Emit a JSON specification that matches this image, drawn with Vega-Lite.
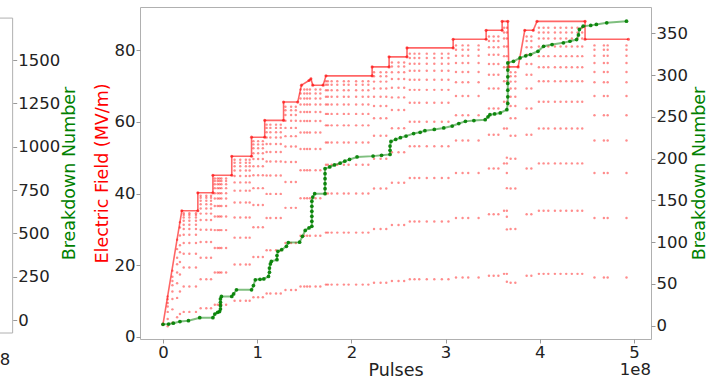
{
  "$schema": "https://vega.github.io/schema/vega-lite/v6.json",
  "width": 511,
  "height": 332,
  "autosize": {"type": "none"},
  "padding": {"left": 140, "top": 7, "right": 61, "bottom": 41},
  "background": "white",
  "config": {
    "font": "DejaVu Sans",
    "view": {"stroke": "#b0b0b0", "strokeWidth": 1},
    "axis": {
      "grid": false,
      "domain": false,
      "tickColor": "#999999",
      "tickSize": 4,
      "labelPadding": 1,
      "labelFontSize": 16.5,
      "labelColor": "#222222",
      "labelFont": "DejaVu Sans",
      "labelFlush": false,
      "labelOverlap": false,
      "titleFont": "DejaVu Sans",
      "titleFontSize": 17.5,
      "titleFontWeight": "normal"
    }
  },
  "datasets": {
    "env": [
      {"x": 0, "y": 3.5}, {"x": 0.20, "y": 35.2}, {"x": 0.37, "y": 35.2}, {"x": 0.37, "y": 40.2},
      {"x": 0.53, "y": 40.2}, {"x": 0.53, "y": 45.1}, {"x": 0.73, "y": 45.1}, {"x": 0.73, "y": 50.4},
      {"x": 0.94, "y": 50.4}, {"x": 0.94, "y": 55.7}, {"x": 1.08, "y": 55.7}, {"x": 1.08, "y": 60.4},
      {"x": 1.28, "y": 60.4}, {"x": 1.28, "y": 65.5}, {"x": 1.43, "y": 65.5}, {"x": 1.47, "y": 70.2},
      {"x": 1.55, "y": 71.5}, {"x": 1.57, "y": 72.0}, {"x": 1.59, "y": 70.2}, {"x": 1.70, "y": 70.2},
      {"x": 1.73, "y": 72.8}, {"x": 2.22, "y": 72.8}, {"x": 2.22, "y": 75.3}, {"x": 2.40, "y": 75.3},
      {"x": 2.40, "y": 78.1}, {"x": 2.59, "y": 78.1}, {"x": 2.59, "y": 80.6}, {"x": 3.08, "y": 80.6},
      {"x": 3.08, "y": 83.0}, {"x": 3.43, "y": 83.0}, {"x": 3.43, "y": 85.5}, {"x": 3.60, "y": 85.5},
      {"x": 3.60, "y": 88.0}, {"x": 3.66, "y": 88.0}, {"x": 3.67, "y": 75.3}, {"x": 3.77, "y": 75.3},
      {"x": 3.84, "y": 85.5}, {"x": 3.93, "y": 85.5}, {"x": 3.97, "y": 88.0}, {"x": 4.48, "y": 88.0},
      {"x": 4.48, "y": 83.0}, {"x": 4.94, "y": 83.0}
    ],
    "dots": [
      {"x": 0.05, "y": [3.0, 5.0, 7.0, 8.5, 9.5, 10.5, 11.3]},
      {"x": 0.10, "y": [4.0, 7.7, 10.6, 12.7, 14.4, 15.6, 16.8, 18.5]},
      {"x": 0.15, "y": [5.5, 10.9, 15.0, 18.0, 20.3, 22.1, 24.5, 27.1]},
      {"x": 0.18, "y": [6.4, 12.7, 17.4, 20.9, 23.6, 25.6, 28.3, 30.5, 32.0]},
      {"x": 0.22, "y": [7.0, 14.1, 19.4, 23.2, 26.2, 28.5, 30.1, 31.3, 32.4, 33.3, 34.0, 34.5]},
      {"x": 0.28, "y": [7.0, 14.1, 19.4, 23.2, 26.2, 28.5, 30.1, 31.3, 32.4, 33.3, 34.0, 34.5]},
      {"x": 0.35, "y": [7.0, 14.1, 19.4, 23.2, 26.2, 28.5, 30.1, 31.3, 32.4, 33.3, 34.0, 34.5]},
      {"x": 0.40, "y": [8.0, 16.1, 22.1, 26.5, 29.9, 32.6, 34.4, 35.8, 37.0, 38.0, 38.8, 39.4]},
      {"x": 0.46, "y": [8.0, 16.1, 22.1, 26.5, 29.9, 32.6, 34.4, 35.8, 37.0, 38.0, 38.8, 39.4]},
      {"x": 0.51, "y": [8.0, 16.1, 22.1, 26.5, 29.9, 32.6, 34.4, 35.8, 37.0, 38.0, 38.8, 39.4]},
      {"x": 0.55, "y": [9.0, 18.0, 24.8, 29.8, 33.6, 36.5, 38.6, 40.1, 41.5, 42.6, 43.5, 44.2]},
      {"x": 0.58, "y": [9.0, 18.0, 24.8, 29.8, 33.6, 36.5, 38.6, 40.1, 41.5, 42.6, 43.5, 44.2]},
      {"x": 0.60, "y": [9.0, 18.0, 24.8, 29.8, 33.6, 36.5, 38.6, 40.1, 41.5, 42.6, 43.5, 44.2]},
      {"x": 0.62, "y": [9.0, 18.0, 24.8, 29.8, 33.6, 36.5, 38.6, 40.1, 41.5, 42.6, 43.5, 44.2]},
      {"x": 0.67, "y": [9.0, 18.0, 24.8, 29.8, 33.6, 36.5, 38.6, 40.1, 41.5, 42.6, 43.5, 44.2]},
      {"x": 0.76, "y": [10.1, 20.2, 27.7, 33.3, 37.5, 40.8, 43.1, 44.9, 46.4, 47.6, 48.6, 49.4]},
      {"x": 0.82, "y": [10.1, 20.2, 27.7, 33.3, 37.5, 40.8, 43.1, 44.9, 46.4, 47.6, 48.6, 49.4]},
      {"x": 0.88, "y": [10.1, 20.2, 27.7, 33.3, 37.5, 40.8, 43.1, 44.9, 46.4, 47.6, 48.6, 49.4]},
      {"x": 0.92, "y": [10.1, 20.2, 27.7, 33.3, 37.5, 40.8, 43.1, 44.9, 46.4, 47.6, 48.6, 49.4]},
      {"x": 0.96, "y": [11.1, 22.3, 30.6, 36.8, 41.5, 45.1, 47.6, 49.6, 51.2, 52.6, 53.7, 54.6]},
      {"x": 1.01, "y": [11.1, 22.3, 30.6, 36.8, 41.5, 45.1, 47.6, 49.6, 51.2, 52.6, 53.7, 54.6]},
      {"x": 1.06, "y": [11.1, 22.3, 30.6, 36.8, 41.5, 45.1, 47.6, 49.6, 51.2, 52.6, 53.7, 54.6]},
      {"x": 1.10, "y": [12.1, 24.2, 33.2, 39.9, 45.0, 48.9, 51.6, 53.8, 55.6, 57.1, 58.3, 59.2]},
      {"x": 1.14, "y": [12.1, 24.2, 33.2, 39.9, 45.0, 48.9, 51.6, 53.8, 55.6, 57.1, 58.3, 59.2]},
      {"x": 1.20, "y": [12.1, 24.2, 33.2, 39.9, 45.0, 48.9, 51.6, 53.8, 55.6, 57.1, 58.3, 59.2]},
      {"x": 1.25, "y": [12.1, 24.2, 33.2, 39.9, 45.0, 48.9, 51.6, 53.8, 55.6, 57.1, 58.3, 59.2]},
      {"x": 1.30, "y": [13.1, 26.2, 36.0, 43.2, 48.8, 53.1, 56.0, 58.3, 60.3, 61.9, 63.2, 64.2]},
      {"x": 1.36, "y": [13.1, 26.2, 36.0, 43.2, 48.8, 53.1, 56.0, 58.3, 60.3, 61.9, 63.2, 64.2]},
      {"x": 1.41, "y": [13.1, 26.2, 36.0, 43.2, 48.8, 53.1, 56.0, 58.3, 60.3, 61.9, 63.2, 64.2]},
      {"x": 1.46, "y": [14.1, 28.2, 38.7, 46.5, 52.4, 57.0, 60.2, 62.7, 64.8, 66.5, 67.9, 69.0]},
      {"x": 1.50, "y": [14.1, 28.2, 38.7, 46.5, 52.4, 57.0, 60.2, 62.7, 64.8, 66.5, 67.9, 69.0]},
      {"x": 1.53, "y": [14.1, 28.2, 38.7, 46.5, 52.4, 57.0, 60.2, 62.7, 64.8, 66.5, 67.9, 69.0]},
      {"x": 1.56, "y": [14.1, 28.2, 38.7, 46.5, 52.4, 57.0, 60.2, 62.7, 64.8, 66.5, 67.9, 69.0]},
      {"x": 1.62, "y": [14.1, 28.2, 38.7, 46.5, 52.4, 57.0, 60.2, 62.7, 64.8, 66.5, 67.9, 69.0]},
      {"x": 1.67, "y": [14.1, 28.2, 38.7, 46.5, 52.4, 57.0, 60.2, 62.7, 64.8, 66.5, 67.9, 69.0]},
      {"x": 1.73, "y": [14.6, 29.1, 40.0, 48.0, 54.2, 59.0, 62.2, 64.8, 67.0, 68.8, 70.3, 71.3]},
      {"x": 1.75, "y": [14.6, 29.1, 40.0, 48.0, 54.2, 59.0, 62.2, 64.8, 67.0, 68.8, 70.3, 71.3]},
      {"x": 1.79, "y": [14.6, 29.1, 40.0, 48.0, 54.2, 59.0, 62.2, 64.8, 67.0, 68.8, 70.3, 71.3]},
      {"x": 1.85, "y": [14.6, 29.1, 40.0, 48.0, 54.2, 59.0, 62.2, 64.8, 67.0, 68.8, 70.3, 71.3]},
      {"x": 1.92, "y": [14.6, 29.1, 40.0, 48.0, 54.2, 59.0, 62.2, 64.8, 67.0, 68.8, 70.3, 71.3]},
      {"x": 1.97, "y": [14.6, 29.1, 40.0, 48.0, 54.2, 59.0, 62.2, 64.8, 67.0, 68.8, 70.3, 71.3]},
      {"x": 2.05, "y": [14.6, 29.1, 40.0, 48.0, 54.2, 59.0, 62.2, 64.8, 67.0, 68.8, 70.3, 71.3]},
      {"x": 2.12, "y": [14.6, 29.1, 40.0, 48.0, 54.2, 59.0, 62.2, 64.8, 67.0, 68.8, 70.3, 71.3]},
      {"x": 2.18, "y": [14.6, 29.1, 40.0, 48.0, 54.2, 59.0, 62.2, 64.8, 67.0, 68.8, 70.3, 71.3]},
      {"x": 2.24, "y": [15.1, 30.1, 41.4, 49.7, 56.1, 61.0, 64.4, 67.0, 69.3, 71.2, 72.7, 73.8]},
      {"x": 2.31, "y": [15.1, 30.1, 41.4, 49.7, 56.1, 61.0, 64.4, 67.0, 69.3, 71.2, 72.7, 73.8]},
      {"x": 2.37, "y": [15.1, 30.1, 41.4, 49.7, 56.1, 61.0, 64.4, 67.0, 69.3, 71.2, 72.7, 73.8]},
      {"x": 2.43, "y": [15.6, 31.2, 43.0, 51.5, 58.2, 63.3, 66.8, 69.5, 71.9, 73.8, 75.4, 76.5]},
      {"x": 2.50, "y": [15.6, 31.2, 43.0, 51.5, 58.2, 63.3, 66.8, 69.5, 71.9, 73.8, 75.4, 76.5]},
      {"x": 2.56, "y": [15.6, 31.2, 43.0, 51.5, 58.2, 63.3, 66.8, 69.5, 71.9, 73.8, 75.4, 76.5]},
      {"x": 2.62, "y": [16.1, 32.2, 44.3, 53.2, 60.0, 65.3, 68.9, 71.7, 74.2, 76.2, 77.8, 79.0]},
      {"x": 2.67, "y": [16.1, 32.2, 44.3, 53.2, 60.0, 65.3, 68.9, 71.7, 74.2, 76.2, 77.8, 79.0]},
      {"x": 2.72, "y": [16.1, 32.2, 44.3, 53.2, 60.0, 65.3, 68.9, 71.7, 74.2, 76.2, 77.8, 79.0]},
      {"x": 2.80, "y": [16.1, 32.2, 44.3, 53.2, 60.0, 65.3, 68.9, 71.7, 74.2, 76.2, 77.8, 79.0]},
      {"x": 2.88, "y": [16.1, 32.2, 44.3, 53.2, 60.0, 65.3, 68.9, 71.7, 74.2, 76.2, 77.8, 79.0]},
      {"x": 2.96, "y": [16.1, 32.2, 44.3, 53.2, 60.0, 65.3, 68.9, 71.7, 74.2, 76.2, 77.8, 79.0]},
      {"x": 3.03, "y": [16.1, 32.2, 44.3, 53.2, 60.0, 65.3, 68.9, 71.7, 74.2, 76.2, 77.8, 79.0]},
      {"x": 3.11, "y": [16.6, 33.2, 45.7, 54.8, 61.8, 67.2, 71.0, 73.9, 76.4, 78.4, 80.1, 81.3]},
      {"x": 3.18, "y": [16.6, 33.2, 45.7, 54.8, 61.8, 67.2, 71.0, 73.9, 76.4, 78.4, 80.1, 81.3]},
      {"x": 3.24, "y": [16.6, 33.2, 45.7, 54.8, 61.8, 67.2, 71.0, 73.9, 76.4, 78.4, 80.1, 81.3]},
      {"x": 3.35, "y": [16.6, 33.2, 45.7, 54.8, 61.8, 67.2, 71.0, 73.9, 76.4, 78.4, 80.1, 81.3]},
      {"x": 3.46, "y": [17.1, 34.2, 47.0, 56.4, 63.7, 69.3, 73.1, 76.1, 78.7, 80.8, 82.5, 83.8]},
      {"x": 3.51, "y": [17.1, 34.2, 47.0, 56.4, 63.7, 69.3, 73.1, 76.1, 78.7, 80.8, 82.5, 83.8]},
      {"x": 3.56, "y": [17.1, 34.2, 47.0, 56.4, 63.7, 69.3, 73.1, 76.1, 78.7, 80.8, 82.5, 83.8]},
      {"x": 3.62, "y": [17.6, 35.2, 48.4, 58.1, 65.6, 71.3, 75.2, 78.3, 81.0, 83.2, 84.9, 86.2]},
      {"x": 3.65, "y": [15.4, 17.6, 30.0, 33.5, 35.2, 41.5, 45.7, 48.4, 50.0, 58.1, 65.6, 71.3, 75.2, 78.3, 81.0, 83.2, 84.9, 86.2]},
      {"x": 3.69, "y": [15.1, 30.1, 41.4, 49.7, 56.1, 61.0, 64.4, 67.0, 69.3, 71.2, 72.7, 73.8]},
      {"x": 3.74, "y": [15.1, 30.1, 41.4, 49.7, 56.1, 61.0, 64.4, 67.0, 69.3, 71.2, 72.7, 73.8]},
      {"x": 3.86, "y": [17.1, 34.2, 47.0, 56.4, 63.7, 69.3, 73.1, 76.1, 78.7, 80.8, 82.5, 83.8]},
      {"x": 3.91, "y": [17.1, 34.2, 47.0, 56.4, 63.7, 69.3, 73.1, 76.1, 78.7, 80.8, 82.5, 83.8]},
      {"x": 3.99, "y": [17.6, 35.2, 48.4, 58.1, 65.6, 71.3, 75.2, 78.3, 81.0, 83.2, 84.9, 86.2]},
      {"x": 4.04, "y": [17.6, 35.2, 48.4, 58.1, 65.6, 71.3, 75.2, 78.3, 81.0, 83.2, 84.9, 86.2]},
      {"x": 4.09, "y": [17.6, 35.2, 48.4, 58.1, 65.6, 71.3, 75.2, 78.3, 81.0, 83.2, 84.9, 86.2]},
      {"x": 4.16, "y": [17.6, 35.2, 48.4, 58.1, 65.6, 71.3, 75.2, 78.3, 81.0, 83.2, 84.9, 86.2]},
      {"x": 4.22, "y": [17.6, 35.2, 48.4, 58.1, 65.6, 71.3, 75.2, 78.3, 81.0, 83.2, 84.9, 86.2]},
      {"x": 4.28, "y": [17.6, 35.2, 48.4, 58.1, 65.6, 71.3, 75.2, 78.3, 81.0, 83.2, 84.9, 86.2]},
      {"x": 4.34, "y": [17.6, 35.2, 48.4, 58.1, 65.6, 71.3, 75.2, 78.3, 81.0, 83.2, 84.9, 86.2]},
      {"x": 4.40, "y": [17.6, 35.2, 48.4, 58.1, 65.6, 71.3, 75.2, 78.3, 81.0, 83.2, 84.9, 86.2]},
      {"x": 4.45, "y": [17.6, 35.2, 48.4, 58.1, 65.6, 71.3, 75.2, 78.3, 81.0, 83.2, 84.9, 86.2]},
      {"x": 4.58, "y": [16.6, 33.2, 45.7, 54.8, 61.8, 67.2, 71.0, 73.9, 76.4, 78.4, 80.1, 81.3]},
      {"x": 4.68, "y": [16.6, 33.2, 45.7, 54.8, 61.8, 67.2, 71.0, 73.9, 76.4, 78.4, 80.1, 81.3]},
      {"x": 4.72, "y": [16.6, 33.2, 45.7, 54.8, 61.8, 67.2, 71.0, 73.9, 76.4, 78.4, 80.1, 81.3]},
      {"x": 4.92, "y": [16.6, 33.2, 45.7, 54.8, 61.8, 67.2, 71.0, 73.9, 76.4, 78.4, 80.1, 81.3]}
    ],
    "bd": [
      {"x": 0, "b": 1.7}, {"x": 0.06, "b": 2}, {"x": 0.11, "b": 3}, {"x": 0.18, "b": 5}, {"x": 0.27, "b": 6},
      {"x": 0.39, "b": 9.6}, {"x": 0.53, "b": 9.6}, {"x": 0.55, "b": 14}, {"x": 0.58, "b": 16}, {"x": 0.60, "b": 17},
      {"x": 0.61, "b": 20}, {"x": 0.61, "b": 24}, {"x": 0.61, "b": 28}, {"x": 0.61, "b": 32}, {"x": 0.62, "b": 35},
      {"x": 0.73, "b": 35}, {"x": 0.75, "b": 38}, {"x": 0.78, "b": 43}, {"x": 0.94, "b": 43}, {"x": 0.96, "b": 48},
      {"x": 0.98, "b": 55}, {"x": 1.03, "b": 55.5}, {"x": 1.07, "b": 56}, {"x": 1.12, "b": 59}, {"x": 1.13, "b": 64},
      {"x": 1.13, "b": 69}, {"x": 1.14, "b": 74}, {"x": 1.15, "b": 77}, {"x": 1.21, "b": 79}, {"x": 1.21, "b": 84},
      {"x": 1.22, "b": 89}, {"x": 1.26, "b": 91}, {"x": 1.31, "b": 95}, {"x": 1.33, "b": 99.5}, {"x": 1.45, "b": 100},
      {"x": 1.48, "b": 107}, {"x": 1.51, "b": 114}, {"x": 1.55, "b": 117}, {"x": 1.58, "b": 119}, {"x": 1.58, "b": 125},
      {"x": 1.58, "b": 131}, {"x": 1.58, "b": 137}, {"x": 1.58, "b": 143}, {"x": 1.58, "b": 149}, {"x": 1.59, "b": 154},
      {"x": 1.61, "b": 158}, {"x": 1.72, "b": 158}, {"x": 1.72, "b": 164}, {"x": 1.72, "b": 170}, {"x": 1.72, "b": 176},
      {"x": 1.72, "b": 182}, {"x": 1.72, "b": 188}, {"x": 1.77, "b": 190}, {"x": 1.82, "b": 192.5}, {"x": 1.88, "b": 194.5},
      {"x": 1.93, "b": 197}, {"x": 1.98, "b": 199}, {"x": 2.06, "b": 202}, {"x": 2.23, "b": 203}, {"x": 2.32, "b": 204},
      {"x": 2.41, "b": 205}, {"x": 2.41, "b": 210}, {"x": 2.41, "b": 215}, {"x": 2.42, "b": 220.6}, {"x": 2.47, "b": 223},
      {"x": 2.52, "b": 225}, {"x": 2.58, "b": 227}, {"x": 2.66, "b": 230}, {"x": 2.73, "b": 231.5}, {"x": 2.78, "b": 233.5},
      {"x": 2.88, "b": 235}, {"x": 2.98, "b": 236.7}, {"x": 3.07, "b": 239}, {"x": 3.14, "b": 242}, {"x": 3.21, "b": 244.6},
      {"x": 3.30, "b": 245.5}, {"x": 3.42, "b": 246.6}, {"x": 3.45, "b": 250}, {"x": 3.47, "b": 252.6}, {"x": 3.52, "b": 253.5},
      {"x": 3.58, "b": 254.7}, {"x": 3.65, "b": 258.6}, {"x": 3.66, "b": 266}, {"x": 3.66, "b": 274}, {"x": 3.66, "b": 282},
      {"x": 3.66, "b": 290}, {"x": 3.66, "b": 298}, {"x": 3.66, "b": 306}, {"x": 3.66, "b": 314.6}, {"x": 3.72, "b": 316.5},
      {"x": 3.79, "b": 320.6}, {"x": 3.85, "b": 323}, {"x": 3.90, "b": 324.6}, {"x": 3.98, "b": 328.5}, {"x": 4.04, "b": 334.5},
      {"x": 4.13, "b": 336.6}, {"x": 4.25, "b": 338.6}, {"x": 4.32, "b": 340.5}, {"x": 4.39, "b": 342.5}, {"x": 4.41, "b": 348},
      {"x": 4.42, "b": 354.6}, {"x": 4.46, "b": 358.5}, {"x": 4.54, "b": 359.5}, {"x": 4.60, "b": 360.6}, {"x": 4.71, "b": 362.6},
      {"x": 4.92, "b": 364.5}
    ]
  },
  "layer": [
    {
      "layer": [
        {
          "data": {"name": "dots"},
          "transform": [{"flatten": ["y"]}],
          "mark": {"type": "point", "filled": true, "size": 6, "color": "red", "opacity": 0.45},
          "encoding": {
            "x": {"field": "x", "type": "quantitative", "scale": {"domain": [-0.244, 5.18], "nice": false, "zero": false},
                  "axis": {"title": "Pulses", "values": [0, 1, 2, 3, 4, 5], "format": "d", "titlePadding": 1, "titleColor": "#222222"}},
            "y": {"field": "y", "type": "quantitative", "scale": {"domain": [-0.56, 92], "nice": false, "zero": false},
                  "axis": {"title": "Electric Field (MV/m)", "titleColor": "red", "values": [0, 20, 40, 60, 80], "titlePadding": 3}}
          }
        },
        {
          "data": {"name": "env"},
          "mark": {"type": "line", "color": "red", "opacity": 0.6, "strokeWidth": 1.6},
          "encoding": {
            "x": {"field": "x", "type": "quantitative"},
            "y": {"field": "y", "type": "quantitative"}
          }
        },
        {
          "data": {"name": "env"},
          "mark": {"type": "point", "filled": true, "size": 10, "color": "red", "opacity": 0.6},
          "encoding": {
            "x": {"field": "x", "type": "quantitative"},
            "y": {"field": "y", "type": "quantitative"}
          }
        },
        {
          "data": {"values": [{"t": "1e8"}]},
          "mark": {"type": "text", "align": "right", "baseline": "middle", "fontSize": 16.5, "color": "#222222"},
          "encoding": {
            "x": {"datum": 5.18, "type": "quantitative"},
            "y": {"datum": -9.2, "type": "quantitative"},
            "text": {"field": "t"}
          }
        },
        {
          "data": {"values": [{"t": "1e8"}]},
          "mark": {"type": "text", "align": "right", "baseline": "middle", "fontSize": 16.5, "color": "#222222"},
          "encoding": {
            "x": {"datum": -1.62, "type": "quantitative"},
            "y": {"datum": -6.4, "type": "quantitative"},
            "text": {"field": "t"}
          }
        }
      ]
    },
    {
      "data": {"name": "bd"},
      "layer": [
        {
          "mark": {"type": "line", "color": "green", "opacity": 0.5, "strokeWidth": 2},
          "encoding": {
            "x": {"field": "x", "type": "quantitative"},
            "y": {"field": "b", "type": "quantitative", "scale": {"domain": [-15.9, 381.5], "nice": false, "zero": false},
                  "axis": {"orient": "right", "title": "Breakdown Number", "titleColor": "green", "values": [0, 50, 100, 150, 200, 250, 300, 350],
                           "titleAngle": 270, "titleBaseline": "top", "titlePadding": 3}}
          }
        },
        {
          "mark": {"type": "point", "filled": true, "size": 14, "color": "green", "opacity": 0.9},
          "encoding": {
            "x": {"field": "x", "type": "quantitative"},
            "y": {"field": "b", "type": "quantitative"}
          }
        }
      ]
    },
    {
      "data": {"values": [{"frame": "left panel"}]},
      "layer": [
        {
          "mark": {"type": "rule", "color": "#b0b0b0", "strokeWidth": 1},
          "encoding": {
            "x": {"datum": -1.596, "type": "quantitative"},
            "y": {"datum": 1742, "type": "quantitative", "scale": {"domain": [-109.6, 1806], "nice": false, "zero": false},
                  "axis": {"orient": "right", "offset": -638.3, "title": "Breakdown Number", "titleColor": "green", "format": "d",
                           "values": [0, 250, 500, 750, 1000, 1250, 1500], "titleAngle": 270, "titleBaseline": "top", "titlePadding": 1}},
            "y2": {"datum": -75}
          }
        },
        {
          "mark": {"type": "rule", "color": "#b0b0b0", "strokeWidth": 1},
          "encoding": {
            "x": {"datum": -1.8, "type": "quantitative"},
            "x2": {"datum": -1.596},
            "y": {"datum": 1742, "type": "quantitative"}
          }
        },
        {
          "mark": {"type": "rule", "color": "#b0b0b0", "strokeWidth": 1},
          "encoding": {
            "x": {"datum": -1.8, "type": "quantitative"},
            "x2": {"datum": -1.596},
            "y": {"datum": -75, "type": "quantitative"}
          }
        }
      ]
    }
  ],
  "resolve": {"scale": {"y": "independent"}, "axis": {"y": "independent"}}
}
